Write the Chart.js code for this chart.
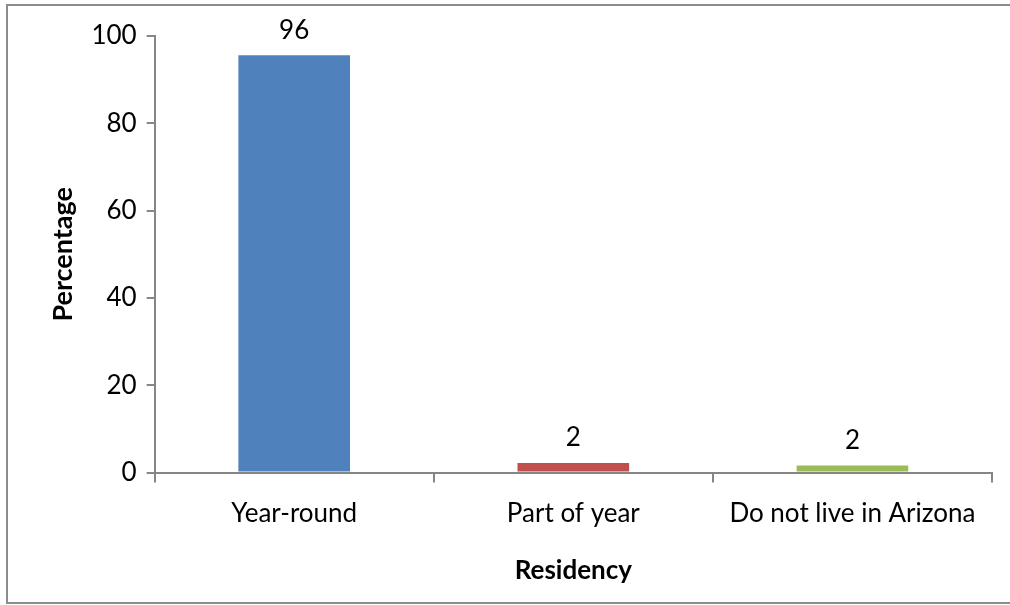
<!DOCTYPE html>
<html>
<head>
<meta charset="utf-8">
<script src="https://cdn.jsdelivr.net/npm/chart.js@4"></script>
<style>
  html, body { margin: 0; padding: 0; background: #fff; }
  #wrap { position: relative; width: 1010px; height: 605px; }
</style>
</head>
<body>
<div id="wrap"><canvas id="residencyChart"></canvas></div>
<script>
const categories = ["Year-round", "Part of year", "Do not live in Arizona"];
const percentages = [95.6, 2.2, 1.6];
const barColors = ["#4f81bd", "#c0504d", "#9bbb59"];
const yTicks = [0, 20, 40, 60, 80, 100];

const FONT = "Lato, 'Open Sans', sans-serif";
const AXIS_GREY = "#868686";

// outer frame like the office chart border
const framePlugin = {
  id: "frame",
  beforeDraw(chart) {
    const ctx = chart.ctx;
    ctx.save();
    ctx.strokeStyle = "#8c8c8c";
    ctx.lineWidth = 2;
    ctx.strokeRect(7, 5, 1010, 598);
    ctx.restore();
  },
};

// value labels above the bars
const valueLabels = {
  id: "valueLabels",
  afterDatasetsDraw(chart) {
    const ctx = chart.ctx;
    const meta = chart.getDatasetMeta(0);
    ctx.save();
    ctx.fillStyle = "#000";
    ctx.font = `26px ${FONT}`;
    ctx.textAlign = "center";
    ctx.textBaseline = "bottom";
    meta.data.forEach((bar, i) => {
      ctx.fillText(String(Math.round(percentages[i])), bar.x, bar.y - 12);
    });
    ctx.restore();
  },
};

new Chart(document.getElementById("residencyChart"), {
  type: "bar",
  data: {
    labels: categories,
    datasets: [{
      data: percentages,
      backgroundColor: barColors,
      categoryPercentage: 1,
      barPercentage: 0.4,
    }],
  },
  options: {
    responsive: true,
    maintainAspectRatio: false,
    animation: false,
    layout: { padding: { left: 47, right: 18, top: 36, bottom: 19 } },
    plugins: {
      legend: { display: false },
      tooltip: { enabled: false },
    },
    scales: {
      x: {
        grid: {
          display: true,
          drawOnChartArea: false,
          drawTicks: true,
          tickLength: 10,
          color: AXIS_GREY,
          lineWidth: 2,
        },
        border: { color: AXIS_GREY, width: 2 },
        ticks: { color: "#000", font: { family: FONT, size: 26 }, padding: 15, maxRotation: 0 },
        title: {
          display: true,
          text: "Residency",
          color: "#000",
          font: { family: FONT, size: 26, weight: "bold" },
          padding: { top: 11, bottom: 0 },
        },
      },
      y: {
        min: 0,
        max: 100,
        afterBuildTicks(axis) {
          axis.ticks = yTicks.map((v) => ({ value: v }));
        },
        grid: {
          display: true,
          drawOnChartArea: false,
          drawTicks: true,
          tickLength: 8,
          color: AXIS_GREY,
          lineWidth: 2,
        },
        border: { color: AXIS_GREY, width: 2 },
        ticks: { color: "#000", font: { family: FONT, size: 26 }, padding: 10 },
        title: {
          display: true,
          text: "Percentage",
          color: "#000",
          font: { family: FONT, size: 27, weight: "bold" },
          padding: { top: 0, bottom: 2 },
        },
      },
    },
  },
  plugins: [framePlugin, valueLabels],
});
</script>
</body>
</html>
